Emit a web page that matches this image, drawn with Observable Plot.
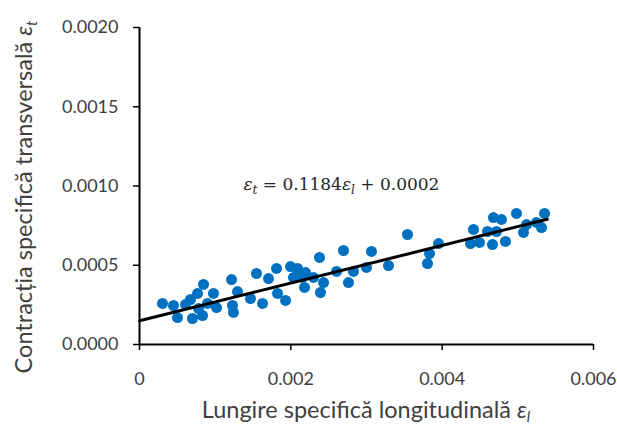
<!DOCTYPE html>
<html><head><meta charset="utf-8">
<script src="https://cdn.jsdelivr.net/npm/d3@7"></script>
<script src="https://cdn.jsdelivr.net/npm/@observablehq/plot@0.6"></script>
<style>body{margin:0;background:#fff}</style>
</head><body><div id="chart"></div>
<script>
// Longitudinal strain (x) and transverse strain (y)
const longStrain = [0.000304,0.000449,0.000502,0.000608,0.000674,0.000700,0.000767,0.000846,0.000833,0.000780,
  0.000899,0.000978,0.001018,0.001216,0.001295,0.001229,0.001242,0.001467,0.001546,0.001626,
  0.001705,0.001811,0.001824,0.001930,0.001996,0.002088,0.002035,0.002154,0.002194,0.002181,
  0.002300,0.002379,0.002392,0.002432,0.002604,0.002696,0.002762,0.002828,0.003000,0.003066,
  0.003291,0.003542,0.003806,0.003833,0.003952,0.004374,0.004414,0.004493,0.004599,0.004665,
  0.004678,0.004784,0.004718,0.004837,0.004982,0.005075,0.005115,0.005247,0.005313,0.005353];
const transStrain = [0.000259,0.000246,0.000170,0.000252,0.000284,0.000164,0.000322,0.000379,0.000183,0.000227,
  0.000259,0.000322,0.000233,0.000410,0.000334,0.000246,0.000202,0.000290,0.000448,0.000259,
  0.000416,0.000480,0.000322,0.000278,0.000492,0.000480,0.000423,0.000423,0.000454,0.000360,
  0.000423,0.000549,0.000328,0.000391,0.000461,0.000593,0.000391,0.000461,0.000486,0.000587,
  0.000498,0.000694,0.000511,0.000574,0.000637,0.000637,0.000726,0.000644,0.000713,0.000631,
  0.000801,0.000789,0.000713,0.000650,0.000827,0.000707,0.000757,0.000770,0.000738,0.000827];
// Trend line end points
const fitX = [0, 0.00539];
const fitY = [0.00015, 0.00079];
// Ticks
const xTicks = [0, 0.002, 0.004, 0.006];
const yTicks = [0, 0.0005, 0.001, 0.0015, 0.002];
// Texts
const xTitle = "Lungire specifică longitudinală ";
const yTitle = "Contracția specifică transversală ";
const eqSlope = "0.1184";
const eqIntercept = "0.0002";
const eqAnchor = [0.00138, 0.00097];

const points = longStrain.map((x, i) => ({x, y: transStrain[i]}));
const fit = fitX.map((x, i) => ({x, y: fitY[i]}));

const chart = Plot.plot({
  width: 617, height: 428,
  marginLeft: 139, marginRight: 24, marginTop: 27, marginBottom: 84,
  style: {fontFamily: "Lato", fontSize: "18px", color: "#404040", background: "white"},
  x: {domain: [0, 0.006]},
  y: {domain: [0, 0.002]},
  marks: [
    Plot.axisX({ticks: xTicks, tickFormat: d => d === 0 ? "0" : d3.format(".3f")(d), tickSize: 6, tickPadding: 22, stroke: "black", strokeWidth: 1.5, label: null}),
    Plot.axisY({ticks: yTicks, tickFormat: d3.format(".4f"), tickSize: 6, tickPadding: 15, stroke: "black", strokeWidth: 1.5, label: null}),
    Plot.ruleY([0], {stroke: "black", strokeWidth: 2}),
    Plot.ruleX([0], {stroke: "black", strokeWidth: 2}),
    Plot.dot(points, {x: "x", y: "y", r: 5.5, fill: "#0070C0"}),
    Plot.line(fit, {x: "x", y: "y", stroke: "black", strokeWidth: 3})
  ]
});
document.getElementById("chart").appendChild(chart);

const sx = chart.scale("x"), sy = chart.scale("y");
const svg = d3.select(chart);
function addSym(t, sub, subSize, dy) {
  t.append("tspan").attr("font-style", "italic").text("ε");
  t.append("tspan").attr("font-style", "italic").attr("font-size", subSize).attr("dy", dy).text(sub);
}
// x title
const xt = svg.append("text").attr("x", (sx.apply(0) + sx.apply(0.006)) / 2).attr("y", 418)
  .attr("text-anchor", "middle").attr("fill", "#404040").attr("font-family", "Lato").attr("font-size", 23.5);
xt.append("tspan").text(xTitle);
addSym(xt, "l", 15, 4);
// y title
const ymid = 197;
const yt = svg.append("text").attr("transform", `translate(32,${ymid}) rotate(-90)`)
  .attr("text-anchor", "middle").attr("fill", "#404040").attr("font-family", "Lato").attr("font-size", 23.5);
yt.append("tspan").text(yTitle);
addSym(yt, "t", 15, 5);
// equation
const eq = svg.append("text").attr("x", sx.apply(eqAnchor[0])).attr("y", sy.apply(eqAnchor[1]))
  .attr("text-anchor", "start").attr("fill", "#262626").attr("font-family", "DejaVu Serif").attr("font-size", 17);
addSym(eq, "t", 12, 4);
eq.append("tspan").attr("dy", -4).text(" = " + eqSlope);
addSym(eq, "l", 12, 4);
eq.append("tspan").attr("dy", -4).text(" + " + eqIntercept);
</script>
</body></html>
